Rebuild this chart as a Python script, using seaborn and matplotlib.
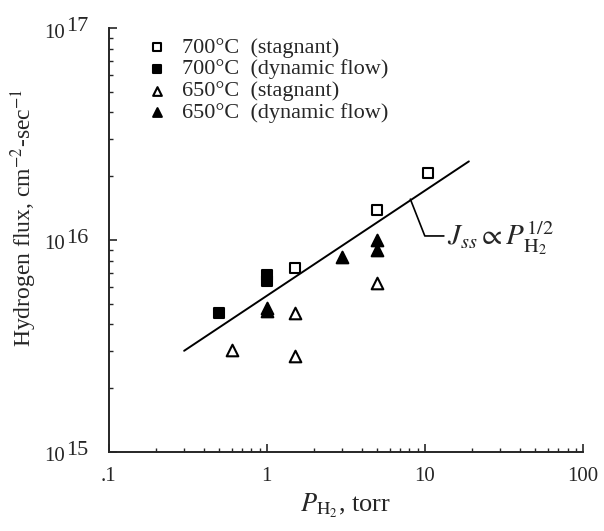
import numpy as np
import pandas as pd
import matplotlib
matplotlib.use("Agg")
import matplotlib.pyplot as plt
import seaborn as sns

# data (pressure in torr, flux in cm^-2 sec^-1)
p700_stag = [1.5, 5.0, 10.5]
j700_stag = [7.35e15, 1.39e16, 2.07e16]

p700_dyn = [0.5, 1.0, 1.0]
j700_dyn = [4.5e15, 6.4e15, 6.8e15]

p650_stag = [0.6, 1.5, 1.5, 5.0]
j650_stag = [3.03e15, 4.5e15, 2.82e15, 6.25e15]

p650_dyn = [1.0, 1.0, 3.0, 5.0, 5.0]
j650_dyn = [4.6e15, 4.8e15, 8.3e15, 9.0e15, 1.0e16]

fit_p = [0.3, 19.0]
fit_j = [3.0e15, 2.35e16]

xtick_vals = [0.1, 1, 10, 100]
xtick_labels = [".1", "1", "10", "100"]
ytick_vals = [1e15, 1e16, 1e17]
ytick_exp = ["15", "16", "17"]

sns.set_style("ticks")
plt.rcParams["font.family"] = ["Liberation Serif", "DejaVu Serif"]
plt.rcParams["mathtext.fontset"] = "stix"

fig = plt.figure(figsize=(6.04, 5.31), dpi=100)
ax = fig.add_axes([0.180, 0.149, 0.785, 0.798])
ax.set_xscale("log")
ax.set_yscale("log")

series = [
    ("700°C  (stagnant)", p700_stag, j700_stag, "s", "white", 55),
    ("700°C  (dynamic flow)", p700_dyn, j700_dyn, "s", "black", 55),
    ("650°C  (stagnant)", p650_stag, j650_stag, "^", "white", 70),
    ("650°C  (dynamic flow)", p650_dyn, j650_dyn, "^", "black", 70),
]
for lab, px, jy, mk, fc, sz in series:
    df = pd.DataFrame({"P": px, "J": jy})
    sns.scatterplot(data=df, x="P", y="J", marker=mk, s=sz, facecolor=fc,
                    edgecolor="black", linewidth=1.5, label=lab, ax=ax, zorder=3)

sns.lineplot(x=fit_p, y=fit_j, color="black", linewidth=1.4, ax=ax, zorder=2)

# leader from the fit line to the J_ss label
x0 = 8.1
y0 = fit_j[0] * np.sqrt(x0 / fit_p[0])
ax.plot([x0, 10.0, 13.2], [y0, 1.045e16, 1.045e16], color="black", lw=1.2)
ax.text(13.8, 1.025e16, r"$J_{ss} \propto P_{\mathrm{H}_2}^{1/2}$",
        fontsize=21, va="center", ha="left")

ax.set_xlim(0.1, 100)
ax.set_ylim(1e15, 1e17)
ax.set_xticks(xtick_vals)
ax.set_xticklabels(xtick_labels, fontsize=15)
ax.set_yticks(ytick_vals)
ax.set_yticklabels([""] * len(ytick_vals))
ax.tick_params(which="major", direction="in", length=6, width=1.2)
ax.tick_params(axis="x", which="major", pad=11)
ax.tick_params(which="minor", direction="in", length=3, width=1.0)
sns.despine(ax=ax)
for sp in ["left", "bottom"]:
    ax.spines[sp].set_linewidth(1.4)

# y tick labels "10" with a large raised exponent
trans = ("axes fraction", "data")
for yv, ex in zip(ytick_vals, ytick_exp):
    ax.annotate("10", xy=(0, yv), xycoords=trans, xytext=(-31.5, -6.8),
                textcoords="offset points", ha="right", va="baseline",
                fontsize=15, annotation_clip=False)
    ax.annotate(ex, xy=(0, yv), xycoords=trans, xytext=(-30.5, -2.0),
                textcoords="offset points", ha="left", va="baseline",
                fontsize=16, annotation_clip=False)

ax.set_xlabel(r"$P_{\mathrm{H}_2}$, torr", fontsize=19)
ax.xaxis.set_label_coords(0.5, -0.095)
ax.set_ylabel(r"Hydrogen flux, cm$^{-2}$-sec$^{-1}$", fontsize=17)
ax.yaxis.set_label_coords(-0.148, 0.552)

ax.legend(loc="upper left", bbox_to_anchor=(0.059, 1.0), frameon=False,
          fontsize=16, markerscale=0.75, handletextpad=0.64, labelspacing=0.06,
          borderaxespad=0.0, handlelength=1.0)

fig.savefig("out.png", dpi=100)
